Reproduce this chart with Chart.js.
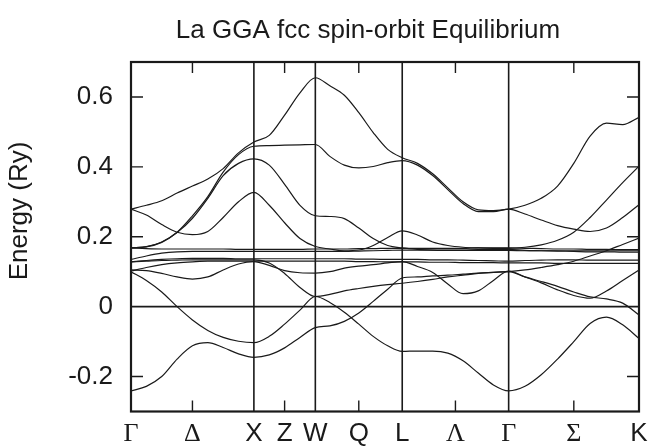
<!DOCTYPE html>
<html>
<head>
<meta charset="utf-8">
<script src="https://cdn.jsdelivr.net/npm/chart.js@4.4.1/dist/chart.umd.min.js"></script>
<style>
  html, body { margin: 0; padding: 0; background: #fff; }
  #wrap { width: 650px; height: 448px; }
</style>
</head>
<body>
<div id="wrap"><canvas id="bands" width="650" height="448"></canvas></div>
<script>
// La GGA fcc spin-orbit band structure, energies in Ry along Γ-X-W-L-Γ-K

const TITLE = 'La GGA fcc spin-orbit Equilibrium';
const Y_TITLE = 'Energy (Ry)';

// symmetry points along the path (distance in 2π/a)
const kTicks = [0, 0.5, 1, 1.25, 1.5, 1.8536, 2.2071, 2.6401, 3.0731, 3.6034, 4.1338];
const kLabels = ['Γ', 'Δ', 'X', 'Z', 'W', 'Q', 'L', 'Λ', 'Γ', 'Σ', 'K'];
const kMajor = [1, 1.5, 2.2071, 3.0731];
const yTicks = [-0.2, 0, 0.2, 0.4, 0.6];

// sampled k points (Γ-X | X-W | W-L | L-Γ | Γ-K)
const kGrid = [
  0, 0.125, 0.25, 0.375, 0.5, 0.625, 0.75, 0.875, 1,
  1.125, 1.25, 1.375, 1.5,
  1.618, 1.736, 1.854, 1.971, 2.089, 2.207,
  2.331, 2.455, 2.578, 2.702, 2.826, 2.949, 3.073,
  3.206, 3.338, 3.471, 3.603, 3.736, 3.869, 4.001, 4.134
];

const band1 = [
  -0.241, -0.228, -0.200, -0.150, -0.112, -0.103, -0.117, -0.135, -0.145,
  -0.138, -0.118, -0.088, -0.060,
  -0.055, -0.042, -0.018, 0.015, 0.050, 0.082,
  0.085, 0.088, 0.090, 0.093, 0.096, 0.098, 0.100,
  0.105, 0.112, 0.120, 0.130, 0.145, 0.160, 0.178, 0.196
];
const band2 = [
  0.100, 0.075, 0.042, 0.000, -0.038, -0.068, -0.088, -0.099, -0.103,
  -0.085, -0.050, -0.010, 0.029,
  0.012, -0.016, -0.050, -0.085, -0.112, -0.128,
  -0.127, -0.127, -0.133, -0.155, -0.190, -0.224, -0.241,
  -0.228, -0.195, -0.150, -0.100, -0.048, -0.030, -0.052, -0.091
];
const band3 = [
  0.105, 0.103, 0.095, 0.085, 0.079, 0.085, 0.105, 0.122, 0.129,
  0.118, 0.103, 0.097, 0.096,
  0.100, 0.110, 0.116, 0.120, 0.125, 0.129,
  0.115, 0.098, 0.065, 0.037, 0.045, 0.075, 0.102,
  0.085, 0.068, 0.048, 0.032, 0.024, 0.045, 0.075, 0.105
];
const band4 = [
  0.128, 0.130, 0.132, 0.133, 0.134, 0.134, 0.134, 0.134, 0.134,
  0.125, 0.095, 0.055, 0.029,
  0.035, 0.045, 0.052, 0.058, 0.063, 0.067,
  0.072, 0.078, 0.085, 0.090, 0.095, 0.098, 0.100,
  0.085, 0.072, 0.058, 0.042, 0.028, 0.022, 0.010, -0.024
];
const flat1 = [
  0.168, 0.166, 0.165, 0.165, 0.165, 0.165, 0.165, 0.164, 0.164,
  0.164, 0.164, 0.164, 0.165,
  0.165, 0.165, 0.166, 0.166, 0.167, 0.167,
  0.167, 0.167, 0.167, 0.167, 0.168, 0.168, 0.168,
  0.167, 0.166, 0.165, 0.165, 0.164, 0.164, 0.163, 0.163
];
const flat2 = [
  0.135, 0.145, 0.153, 0.157, 0.158, 0.158, 0.158, 0.158, 0.158,
  0.158, 0.158, 0.158, 0.158,
  0.158, 0.158, 0.159, 0.160, 0.161, 0.162,
  0.162, 0.162, 0.162, 0.162, 0.163, 0.163, 0.164,
  0.161, 0.160, 0.159, 0.158, 0.157, 0.157, 0.156, 0.156
];
const flat3 = [
  0.128, 0.132, 0.135, 0.137, 0.138, 0.138, 0.138, 0.137, 0.137,
  0.137, 0.137, 0.137, 0.137,
  0.137, 0.137, 0.136, 0.136, 0.135, 0.135,
  0.135, 0.134, 0.134, 0.133, 0.132, 0.131, 0.130,
  0.132, 0.133, 0.134, 0.134, 0.133, 0.133, 0.133, 0.133
];
const flat4 = [
  0.102, 0.112, 0.120, 0.125, 0.128, 0.130, 0.130, 0.130, 0.130,
  0.130, 0.130, 0.130, 0.130,
  0.130, 0.130, 0.129, 0.129, 0.128, 0.128,
  0.128, 0.127, 0.127, 0.126, 0.126, 0.126, 0.125,
  0.125, 0.125, 0.124, 0.124, 0.124, 0.124, 0.124, 0.124
];
const band5 = [
  0.168, 0.171, 0.184, 0.212, 0.253, 0.310, 0.375, 0.410, 0.423,
  0.405, 0.350, 0.290, 0.260,
  0.258, 0.252, 0.225, 0.195, 0.175, 0.168,
  0.164, 0.162, 0.161, 0.161, 0.161, 0.161, 0.161,
  0.160, 0.160, 0.160, 0.160, 0.160, 0.160, 0.160, 0.160
];
const band6 = [
  0.279, 0.262, 0.235, 0.213, 0.206, 0.215, 0.255, 0.300, 0.327,
  0.290, 0.240, 0.195, 0.172,
  0.165, 0.160, 0.162, 0.175, 0.198, 0.217,
  0.205, 0.185, 0.175, 0.170, 0.168, 0.167, 0.167,
  0.170, 0.177, 0.190, 0.213, 0.255, 0.305, 0.355, 0.402
];
const band7 = [
  0.168, 0.172, 0.185, 0.213, 0.260, 0.315, 0.385, 0.435, 0.459,
  0.461, 0.462, 0.463, 0.464,
  0.430, 0.405, 0.397, 0.401, 0.412, 0.418,
  0.405, 0.375, 0.335, 0.295, 0.272, 0.272, 0.279,
  0.265, 0.248, 0.232, 0.222, 0.215, 0.225, 0.255, 0.292
];
const band8 = [
  0.279, 0.290, 0.303, 0.325, 0.345, 0.365, 0.395, 0.440, 0.471,
  0.490, 0.548, 0.612, 0.655,
  0.632, 0.605, 0.555, 0.498, 0.450, 0.426,
  0.410, 0.380, 0.340, 0.300, 0.277, 0.275, 0.279,
  0.290, 0.310, 0.345, 0.410, 0.488, 0.525, 0.521, 0.542
];

const BANDS = [band1, band2, band3, band4, flat1, flat2, flat3, flat4, band5, band6, band7, band8];

const SANS = "'Liberation Sans', Arial, Helvetica, sans-serif";
const SERIF = "'Liberation Serif', 'Times New Roman', serif";
const GREEK = ['Γ', 'Δ', 'Λ', 'Σ'];
const INK = '#1a1a1a';

Chart.defaults.font.family = SANS;
Chart.defaults.color = INK;

// frame, symmetry lines, inner ticks and titles
const bandFrame = {
  id: 'bandFrame',
  beforeDatasetsDraw(chart) {
    const { ctx, chartArea: a, scales: { x, y } } = chart;
    ctx.save();
    ctx.strokeStyle = INK;
    ctx.lineWidth = 1.6;
    ctx.beginPath();
    kMajor.forEach((k) => {
      const px = x.getPixelForValue(k);
      ctx.moveTo(px, a.top);
      ctx.lineTo(px, a.bottom);
    });
    const y0 = y.getPixelForValue(0);
    ctx.moveTo(a.left, y0);
    ctx.lineTo(a.right, y0);
    ctx.stroke();
    ctx.restore();
  },
  afterDatasetsDraw(chart) {
    const { ctx, chartArea: a, scales: { x, y } } = chart;
    ctx.save();
    ctx.strokeStyle = INK;
    ctx.lineWidth = 1.4;
    ctx.beginPath();
    kTicks.forEach((k) => {
      if (kMajor.includes(k) || k === 0 || k === kTicks[kTicks.length - 1]) return;
      const px = x.getPixelForValue(k);
      ctx.moveTo(px, a.top);
      ctx.lineTo(px, a.top + 11);
      ctx.moveTo(px, a.bottom);
      ctx.lineTo(px, a.bottom - 11);
    });
    yTicks.forEach((v) => {
      if (v === 0) return;
      const py = y.getPixelForValue(v);
      ctx.moveTo(a.left, py);
      ctx.lineTo(a.left + 12, py);
      ctx.moveTo(a.right, py);
      ctx.lineTo(a.right - 12, py);
    });
    ctx.stroke();
    ctx.lineWidth = 2.2;
    ctx.strokeRect(a.left, a.top, a.right - a.left, a.bottom - a.top);

    ctx.fillStyle = INK;
    ctx.font = '26px ' + SANS;
    ctx.textAlign = 'center';
    ctx.textBaseline = 'alphabetic';
    ctx.fillText(TITLE, 368, 38);

    ctx.translate(20, 211);
    ctx.rotate(-Math.PI / 2);
    ctx.textBaseline = 'middle';
    ctx.fillText(Y_TITLE, 0, 0);
    ctx.restore();
  }
};

new Chart(document.getElementById('bands'), {
  type: 'line',
  data: {
    datasets: BANDS.map((b) => ({
      data: kGrid.map((k, i) => ({ x: k, y: b[i] })),
      borderColor: INK,
      borderWidth: 1.2,
      pointRadius: 0,
      fill: false,
      cubicInterpolationMode: 'monotone'
    }))
  },
  options: {
    responsive: false,
    animation: false,
    layout: { padding: { left: 0, right: 11, top: 62, bottom: 0 } },
    plugins: { legend: { display: false }, tooltip: { enabled: false }, title: { display: false } },
    scales: {
      x: {
        type: 'linear',
        min: 0,
        max: kTicks[kTicks.length - 1],
        afterFit: (s) => { s.height = 36.5; s.paddingLeft = 0; s.paddingRight = 0; },
        afterBuildTicks: (s) => { s.ticks = kTicks.map((v) => ({ value: v })); },
        grid: { display: false, drawTicks: false },
        border: { display: false },
        ticks: {
          autoSkip: false,
          maxRotation: 0,
          padding: 7,
          color: INK,
          callback: (v, i) => kLabels[i],
          font: (c) => ({
            family: GREEK.includes(kLabels[c.index]) ? SERIF : SANS,
            size: 26
          })
        }
      },
      y: {
        min: -0.3,
        max: 0.7,
        afterFit: (s) => { s.width = 131; s.paddingTop = 0; s.paddingBottom = 0; },
        afterBuildTicks: (s) => { s.ticks = yTicks.map((v) => ({ value: v })); },
        grid: { display: false, drawTicks: false },
        border: { display: false },
        ticks: {
          padding: 18,
          color: INK,
          font: { size: 26 },
          callback: (v) => (v === 0 ? '0' : v.toFixed(1))
        }
      }
    }
  },
  plugins: [bandFrame]
});
</script>
</body>
</html>
